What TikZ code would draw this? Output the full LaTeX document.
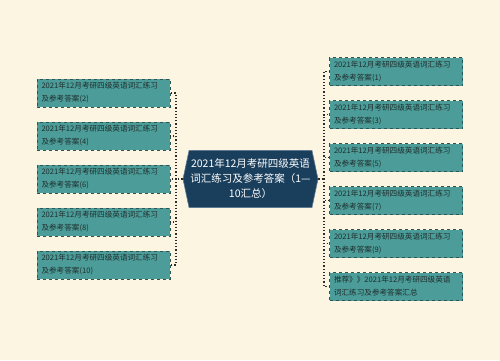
\documentclass[tikz,border=0pt]{standalone}
\usepackage{fontspec}
\setmainfont{Noto Sans CJK SC}
\usetikzlibrary{positioning,shapes.symbols}
\definecolor{paper}{HTML}{FCF5E1}
\definecolor{navy}{HTML}{1A3F5D}
\definecolor{tealbox}{HTML}{4C9D99}
\definecolor{tealedge}{HTML}{2A5756}
\definecolor{inkline}{HTML}{2B2B2B}
\definecolor{boxtext}{HTML}{1F2E2E}
\tikzset{
  topic/.style={shape=signal,signal to=west and east,signal pointer angle=156,
    fill=navy,draw=navy!70!white,line width=0.6pt,text=white,align=center,
    font=\fontsize{10.5}{15}\selectfont,minimum width=135,minimum height=57,inner sep=1pt},
  leaf/.style={rectangle,fill=tealbox,draw=tealedge,dashed,line width=0.7pt,
    text=boxtext,align=left,text width=124,minimum width=133,minimum height=28,
    inner xsep=4.5pt,inner ysep=1pt,font=\fontsize{7.6}{13}\selectfont},
  link/.style={draw=inkline,line width=1.2pt,dotted}
}
\begin{document}
\begin{tikzpicture}[x=1pt,y=-1pt]
\fill[paper] (0,0) rectangle (500,360);
\useasboundingbox (0,0) rectangle (500,360);
\node[topic] (c) at (250.5,179) {2021年12月考研四级英语\\词汇练习及参考答案（1—\\10汇总）};
% left side
\foreach \n/\y in {2/93,4/136,6/179,8/222,10/265}
  \node[leaf] (L\n) at (103.5,\y) {2021年12月考研四级英语词汇练习\\及参考答案(\n)};
% right side
\foreach \n/\y in {1/71.5,3/114.5,5/157.5,7/200.5,9/243.5}
  \node[leaf] (R\n) at (396,\y) {2021年12月考研四级英语词汇练习\\及参考答案(\n)};
\node[leaf] (R11) at (396,286.5) {推荐》》2021年12月考研四级英语\\词汇练习及参考答案汇总};
\coordinate (jL) at (176,179);
\coordinate (jR) at (324,179);
\draw[link] (c.west) -- (jL);
\draw[link] (c.east) -- (jR);
\foreach \n in {2,4,6,8,10} \draw[link] (jL) |- (L\n.east);
\foreach \n in {1,3,5,7,9,11} \draw[link] (jR) |- (R\n.west);
\end{tikzpicture}
\end{document}
